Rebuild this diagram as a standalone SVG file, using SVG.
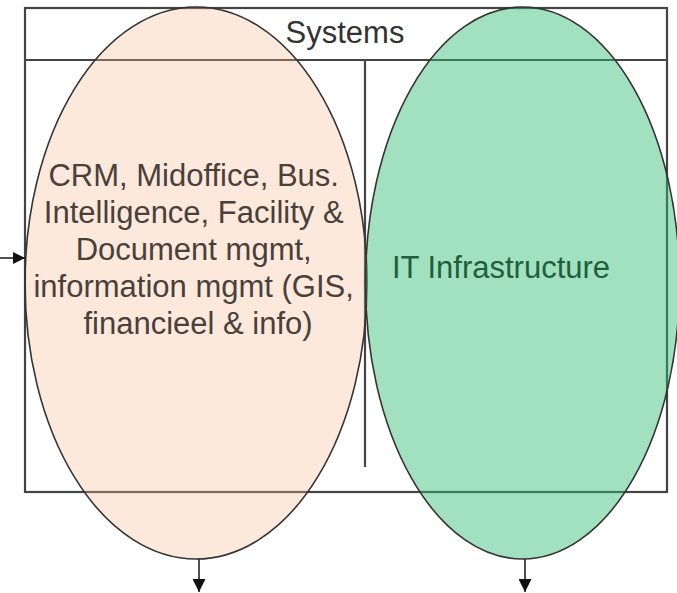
<svg xmlns="http://www.w3.org/2000/svg" width="677" height="593" viewBox="0 0 677 593">
<style>
.frame{fill:none;stroke:#444;stroke-width:2.2}
.ell{stroke:#333;stroke-width:1.6}
.t{font-family:"Liberation Sans",Arial,sans-serif;font-size:31px;text-anchor:middle}
.conn{stroke:#222;stroke-width:1.6;fill:none}
</style>
<defs>
<marker id="ah" viewBox="0 0 10 10" refX="10" refY="5" markerWidth="12" markerHeight="12" markerUnits="userSpaceOnUse" orient="auto">
<path d="M0,0 L10,5 L0,10 z" fill="#111"/>
</marker>
<marker id="ahb" viewBox="0 0 10 10" refX="10" refY="5" markerWidth="13" markerHeight="13" markerUnits="userSpaceOnUse" orient="auto">
<path d="M0,0 L10,5 L0,10 z" fill="#111"/>
</marker>
</defs>
<rect width="677" height="593" fill="#fff"/>
<g id="systems">
<rect class="frame" x="25" y="8" width="642" height="484"/>
<line class="frame" x1="25" y1="60" x2="667" y2="60"/>
<line class="frame" x1="365" y1="60" x2="365" y2="467"/>
<text class="t" x="345" y="43" fill="#333">Systems</text>
</g>
<g id="crm">
<ellipse class="ell" cx="196" cy="283" rx="171" ry="276" fill="#f8b68a" fill-opacity="0.3"/>
<text class="t" fill="#4a403a">
<tspan x="198" y="186">CRM, Midoffice, Bus.</tspan>
<tspan x="198" y="223">Intelligence, Facility &amp;</tspan>
<tspan x="198" y="260">Document mgmt,</tspan>
<tspan x="198" y="297">information mgmt (GIS,</tspan>
<tspan x="198" y="334">financieel &amp; info)</tspan>
</text>
</g>
<g id="it">
<ellipse class="ell" cx="522.5" cy="283" rx="157" ry="276" fill="#30bc72" fill-opacity="0.45"/>
<text class="t" x="501" y="278" fill="#1f5f3c">IT Infrastructure</text>
</g>
<g id="connectors">
<line class="conn" x1="0" y1="258" x2="25" y2="258" marker-end="url(#ah)"/>
<line class="conn" x1="199" y1="559" x2="199" y2="592" marker-end="url(#ahb)"/>
<line class="conn" x1="525" y1="559" x2="525" y2="592" marker-end="url(#ahb)"/>
</g>
</svg>
